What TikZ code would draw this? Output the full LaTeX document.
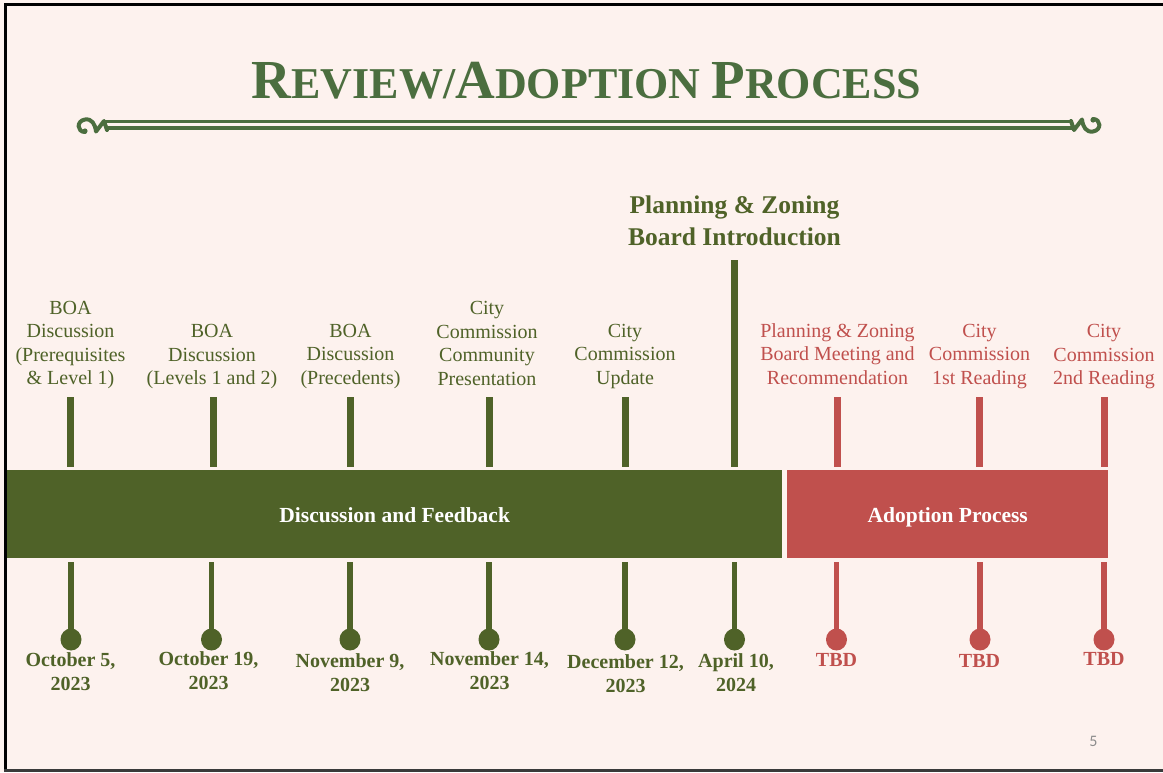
\documentclass[tikz,border=0pt]{standalone}
\usepackage{fontspec}
\setmainfont{Liberation Serif}
\newfontfamily\pagefont{Carlito}
\definecolor{olivegreen}{HTML}{4F6228}
\definecolor{adoptred}{HTML}{C0504D}
\definecolor{titlegreen}{HTML}{4B6E3F}
\definecolor{pagebg}{HTML}{FDF2EE}
\definecolor{framegray}{HTML}{3A3A3A}
\tikzset{
  uplabel/.style={align=center, font=\fontsize{20}{23.5}\selectfont, inner sep=0, anchor=base},
  datelabel/.style={align=center, font=\bfseries\fontsize{20}{23.2}\selectfont, inner sep=0, anchor=base},
  barbox/.style={inner sep=0, anchor=north west, minimum height=88, text height=20, text depth=4, text=white, font=\bfseries\fontsize{21.5}{24}\selectfont},
  swirlline/.style={titlegreen, line width=4, line cap=round, line join=round}
}
\newcommand{\drawswirl}{%
  \draw[swirlline] (85,132) .. controls (77,132) and (76,121) .. (85,119.5)
      .. controls (92,118.5) and (95,124) .. (96,131.5) -- (104,121) -- (107,130);
  \fill[titlegreen] (85,131) circle (2.6);
}
\begin{document}
\begin{tikzpicture}[x=1pt,y=-1pt]
\useasboundingbox (0,0) rectangle (1163,772);
\fill[pagebg] (0,0) rectangle (1163,772);
% frame
\fill[black] (4,3) rectangle (1163,6);
\fill[black] (4,3) rectangle (7,772);
\fill[framegray] (4,769) rectangle (1163,772);

% title
\node[inner sep=0, anchor=base, text=titlegreen, font=\bfseries] (title) at (586.5,98)
  {\fontsize{55}{55}\selectfont R\fontsize{44}{44}\selectfont EVIEW/\fontsize{55}{55}\selectfont A\fontsize{44}{44}\selectfont DOPTION \fontsize{55}{55}\selectfont P\fontsize{44}{44}\selectfont ROCESS};
\draw[titlegreen, line width=2.4] (106,121.5) -- (1073,121.5);
\draw[titlegreen, line width=4] (106,128) -- (1073,128);
\drawswirl
\begin{scope}[shift={(1178,251)}, scale=-1]
  \drawswirl
\end{scope}

% bars
\node[barbox, fill=olivegreen, minimum width=775] (greenbar) at (7,470) {Discussion and Feedback};
\node[barbox, fill=adoptred, minimum width=321] (redbar) at (787,470) {Adoption Process};

% upper ticks
\foreach \x/\c in {70.5/olivegreen, 213/olivegreen, 350.5/olivegreen, 489/olivegreen, 625/olivegreen, 837.5/adoptred, 979.5/adoptred, 1104/adoptred}
  \fill[\c] (\x-3.5,397) rectangle (\x+3.5,467);
\fill[olivegreen] (731,260) rectangle (738,467);

% lower stems with dots
\foreach \x/\c in {71/olivegreen, 211.5/olivegreen, 350/olivegreen, 489/olivegreen, 625/olivegreen, 734.5/olivegreen, 836.5/adoptred, 980/adoptred, 1104/adoptred}{
  \fill[\c] (\x-2.8,562) rectangle (\x+2.8,634);
  \fill[\c] (\x,639.5) ellipse (10.5 and 11);
}

% upper labels (anchor = baseline of last line)
\node[uplabel, text=olivegreen] (l1) at (70.5,384.5) {BOA\\Discussion\\(Prerequisites\\\&{} Level 1)};
\node[uplabel, text=olivegreen] (l2) at (212,384.5) {BOA\\Discussion\\(Levels 1 and 2)};
\node[uplabel, text=olivegreen] (l3) at (350.5,384) {BOA\\Discussion\\(Precedents)};
\node[uplabel, text=olivegreen] (l4) at (487,385) {City\\Commission\\Community\\Presentation};
\node[uplabel, text=olivegreen] (l5) at (625,384) {City\\Commission\\Update};
\node[inner sep=0, anchor=base, align=center, text=olivegreen, font=\bfseries\fontsize{25.5}{31.5}\selectfont] (l6) at (734.5,245) {Planning \&{} Zoning\\Board Introduction};
\node[uplabel, text=adoptred] (l7) at (837.5,384) {Planning \&{} Zoning\\Board Meeting and\\Recommendation};
\node[uplabel, text=adoptred] (l8) at (979.5,384) {City\\Commission\\1st Reading};
\node[uplabel, text=adoptred] (l9) at (1104,384.5) {City\\Commission\\2nd Reading};

% date labels (anchor = baseline of last line)
\node[datelabel, text=olivegreen] (d1) at (70.5,690) {October 5,\\2023};
\node[datelabel, text=olivegreen] (d2) at (208.5,689) {October 19,\\2023};
\node[datelabel, text=olivegreen] (d3) at (350,691) {November 9,\\2023};
\node[datelabel, text=olivegreen] (d4) at (489.5,689) {November 14,\\2023};
\node[datelabel, text=olivegreen] (d5) at (625.5,692) {December 12,\\2023};
\node[datelabel, text=olivegreen] (d6) at (736,691) {April 10,\\2024};
\node[datelabel, text=adoptred] (d7) at (836.5,666) {TBD};
\node[datelabel, text=adoptred] (d8) at (979.5,667) {TBD};
\node[datelabel, text=adoptred] (d9) at (1104,665) {TBD};

% page number
\node[inner sep=0, anchor=base, text=gray!90, font=\pagefont\fontsize{16}{16}\selectfont] (pnum) at (1093.5,746) {5};
\end{tikzpicture}
\end{document}
